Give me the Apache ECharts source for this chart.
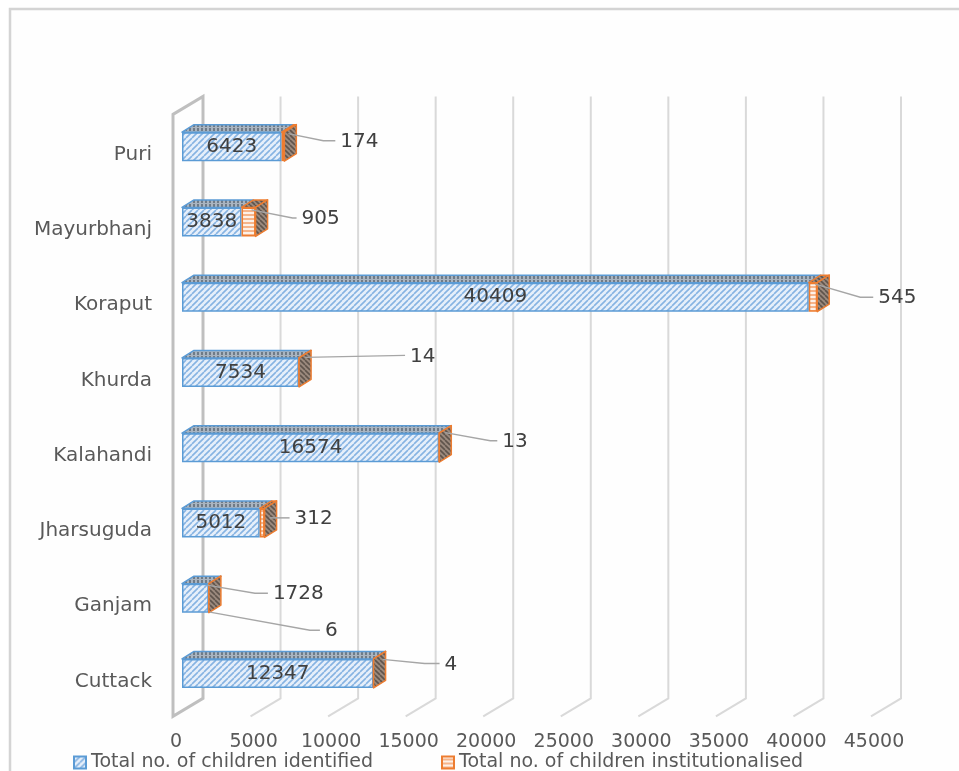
<!DOCTYPE html>
<html>
<head>
<meta charset="utf-8">
<title>Children identified and institutionalised by district</title>
<script src="https://cdn.jsdelivr.net/npm/echarts@6/dist/echarts.min.js"></script>
<style>
  html, body { margin: 0; padding: 0; background: #ffffff; }
  #chart { width: 959px; height: 771px; }
</style>
</head>
<body>
<div id="chart"></div>
<script>
// ---- data ----
const categories = ['Cuttack', 'Ganjam', 'Jharsuguda', 'Kalahandi', 'Khurda', 'Koraput', 'Mayurbhanj', 'Puri'];
const identified = [12347, 1728, 5012, 16574, 7534, 40409, 3838, 6423];
const institutionalised = [4, 6, 312, 13, 14, 545, 905, 174];
const xTicks = [0, 5000, 10000, 15000, 20000, 25000, 30000, 35000, 40000, 45000];
const seriesNames = ['Total no. of children identified', 'Total no. of children institutionalised'];

// ---- callout leader lines (pixel offsets from the end of each bar's front face) ----
// [startDx, startDy, elbowDx, elbowDy, endDx, endDy]
const institutionalisedCallouts = [
  [9, -14, 51, -10, 66, -10],     // Cuttack
  [1, 14, 101, 32, 111, 32],      // Ganjam
  [5, -5, 5, -5, 25, -5],         // Jharsuguda
  [6, -15, 51, -7, 58, -7],       // Kalahandi
  [6, -15, 106, -17, 106, -17],   // Khurda
  [-2, -13, 43, 0, 56, 0],        // Koraput
  [-4, -12, 37, -4, 41, -4],      // Mayurbhanj
  [4, -13, 39, -6, 51, -6]        // Puri
];
// identified value placed outside the bar where it does not fit
const identifiedCallouts = { 1: [-2, -13, 46, -5, 59, -5] };

// ---- 3D geometry (pixels) ----
const BAR_H = 29;
const DEPTH = [12, -7.5];        // bar depth
const BACK = [21, -12.6];        // back wall relative to the bar front plane
const FRONT = [-9, 5.4];         // front edge of the floor / side wall

// ---- fill patterns ----
function makePattern(w, h, draw) {
  const c = document.createElement('canvas');
  c.width = w; c.height = h;
  const g = c.getContext('2d');
  draw(g, w, h);
  return { image: c, repeat: 'repeat' };
}
function diag(g, w, h, color, lw, up) {
  g.strokeStyle = color; g.lineWidth = lw;
  g.beginPath();
  for (let k = -1; k <= 1; k++) {
    if (up) { g.moveTo(k * w, h); g.lineTo(k * w + w, 0); }
    else { g.moveTo(k * w, 0); g.lineTo(k * w + w, h); }
  }
  g.stroke();
}
const blueFront = makePattern(6, 6, (g, w, h) => {
  g.fillStyle = '#e6effa'; g.fillRect(0, 0, w, h);
  diag(g, w, h, '#86b3e2', 1.6, true);
});
const blueTop = makePattern(4, 4, (g, w, h) => {
  g.fillStyle = '#a9b4c0'; g.fillRect(0, 0, w, h);
  g.fillStyle = '#6f7b87'; g.fillRect(1, 0, 2, 3);
});
const orangeFront = makePattern(4, 4, (g, w, h) => {
  g.fillStyle = '#f6b48a'; g.fillRect(0, 0, w, h);
  g.fillStyle = '#fdf1e8'; g.fillRect(0, 0, w, 2);
});
const orangeSide = makePattern(5, 5, (g, w, h) => {
  g.fillStyle = '#9b8a7e'; g.fillRect(0, 0, w, h);
  diag(g, w, h, '#5f544c', 1.6, false);
});

const BLUE = '#5b9bd5';
const ORANGE = '#ed7d31';
const FONT = 'DejaVu Sans';

const chart = echarts.init(document.getElementById('chart'));

// walls, back gridlines and floor lines
function renderFrame(params, api) {
  const cs = params.coordSys;
  const t = api.value(0);
  const x = api.coord([t, 0])[0];
  const yTop = cs.y, yBot = cs.y + cs.height;
  const children = [];
  if (t === xTicks[0]) {
    children.push({
      type: 'polygon',
      shape: { points: [
        [x + FRONT[0], yTop + FRONT[1]], [x + BACK[0], yTop + BACK[1]],
        [x + BACK[0], yBot + BACK[1]], [x + FRONT[0], yBot + FRONT[1]]
      ] },
      style: { fill: 'none', stroke: '#bfbfbf', lineWidth: 3, lineJoin: 'miter' }
    });
  } else {
    children.push({
      type: 'polyline',
      shape: { points: [
        [x + BACK[0], yTop + BACK[1]], [x + BACK[0], yBot + BACK[1]],
        [x + FRONT[0], yBot + FRONT[1]]
      ] },
      style: { fill: 'none', stroke: '#d9d9d9', lineWidth: 2 }
    });
  }
  return { type: 'group', children: children, silent: true };
}

// top faces and right end face of each stacked bar
function renderFaces(params, api) {
  const i = api.value(0);
  const a = identified[i], b = institutionalised[i];
  const p0 = api.coord([0, i]);
  const x0 = p0[0], yc = p0[1];
  const x1 = api.coord([a, i])[0];
  const x2 = api.coord([a + b, i])[0];
  const yt = yc - BAR_H / 2, yb = yc + BAR_H / 2;
  const dx = DEPTH[0], dy = DEPTH[1];
  return {
    type: 'group',
    children: [
      { type: 'polygon',
        shape: { points: [[x0, yt], [x1, yt], [x1 + dx, yt + dy], [x0 + dx, yt + dy]] },
        style: { fill: blueTop, stroke: BLUE, lineWidth: 1.5, lineJoin: 'round' } },
      { type: 'polygon',
        shape: { points: [[x1, yt], [x2, yt], [x2 + dx, yt + dy], [x1 + dx, yt + dy]] },
        style: { fill: orangeSide, stroke: ORANGE, lineWidth: 1.5, lineJoin: 'round' } },
      { type: 'polygon',
        shape: { points: [[x2, yt], [x2 + dx, yt + dy], [x2 + dx, yb + dy], [x2, yb]] },
        style: { fill: orangeSide, stroke: ORANGE, lineWidth: 1.5, lineJoin: 'round' } }
    ]
  };
}

function callout(xe, yc, c, text) {
  return [
    { type: 'polyline',
      shape: { points: [[xe + c[0], yc + c[1]], [xe + c[2], yc + c[3]], [xe + c[4], yc + c[5]]] },
      style: { fill: 'none', stroke: '#a6a6a6', lineWidth: 1.5 } },
    { type: 'text',
      style: { text: text, x: xe + c[4] + 5, y: yc + c[5] + 1, fill: '#404040',
               font: '20px "' + FONT + '"', textAlign: 'left', textVerticalAlign: 'middle' } }
  ];
}

function renderCallouts(params, api) {
  const i = api.value(0);
  const a = identified[i], b = institutionalised[i];
  const yc = api.coord([0, i])[1];
  const xe = api.coord([a + b, i])[0];
  let children = callout(xe, yc, institutionalisedCallouts[i], String(b));
  if (identifiedCallouts[i]) {
    children = children.concat(callout(xe, yc, identifiedCallouts[i], String(a)));
  }
  return { type: 'group', children: children, silent: true };
}

const identifiedData = identified.map((v, i) =>
  identifiedCallouts[i] ? { value: v, label: { show: false } } : v);

chart.setOption({
  animation: false,
  backgroundColor: '#ffffff',
  textStyle: { fontFamily: FONT },
  graphic: [{
    type: 'rect', z: -10, silent: true,
    shape: { x: 10, y: 9, width: 960, height: 780 },
    style: { fill: '#fefefe', stroke: '#d4d4d4', lineWidth: 2.5 }
  }],
  grid: { left: 182, top: 109, width: 698, height: 602, containLabel: false },
  legend: [
    { data: [seriesNames[0]], left: 68, top: 748, itemWidth: 12, itemHeight: 12, itemGap: 5,
      icon: 'rect', textStyle: { fontSize: 19, color: '#595959', fontFamily: FONT } },
    { data: [seriesNames[1]], left: 436, top: 748, itemWidth: 12, itemHeight: 12, itemGap: 5,
      icon: 'rect', textStyle: { fontSize: 19, color: '#595959', fontFamily: FONT } }
  ],
  xAxis: {
    type: 'value', min: 0, max: 45000, interval: 5000,
    axisLine: { show: false }, axisTick: { show: false }, splitLine: { show: false },
    axisLabel: { fontSize: 19, color: '#595959', margin: 22, padding: [0, 12, 0, 0],
                 formatter: v => String(v) }
  },
  yAxis: {
    type: 'category', data: categories,
    axisLine: { show: false }, axisTick: { show: false }, splitLine: { show: false },
    axisLabel: { fontSize: 20, color: '#595959', margin: 30,
                 verticalAlign: 'top', lineHeight: 16 }
  },
  series: [
    { type: 'custom', name: 'frame', z: 1, renderItem: renderFrame,
      data: xTicks.map(t => [t]), encode: { x: 0 }, silent: true, tooltip: { show: false } },
    { type: 'bar', name: seriesNames[0], stack: 'total', barWidth: BAR_H, z: 3,
      data: identifiedData,
      itemStyle: { color: blueFront, borderColor: BLUE, borderWidth: 1.5 },
      label: { show: true, position: 'inside', fontSize: 20, color: '#404040', fontFamily: FONT } },
    { type: 'bar', name: seriesNames[1], stack: 'total', barWidth: BAR_H, z: 3,
      data: institutionalised,
      itemStyle: { color: orangeFront, borderColor: ORANGE, borderWidth: 1.5 } },
    { type: 'custom', name: 'faces', z: 4, renderItem: renderFaces,
      data: categories.map((c, i) => [i]), encode: { y: 0 }, silent: true },
    { type: 'custom', name: 'callouts', z: 5, renderItem: renderCallouts,
      data: categories.map((c, i) => [i]), encode: { y: 0 }, silent: true }
  ]
});
</script>
</body>
</html>
